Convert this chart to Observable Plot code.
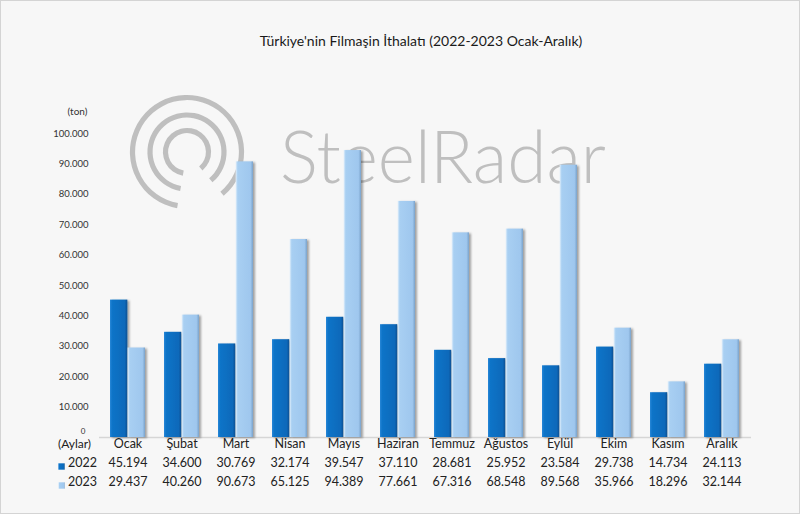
<!DOCTYPE html>
<html><head><meta charset="utf-8">
<script src="https://cdn.jsdelivr.net/npm/d3@7"></script>
<script src="https://cdn.jsdelivr.net/npm/@observablehq/plot@0.6"></script>
<style>
body{margin:0;background:#fff;}
#frame{position:relative;width:798px;height:512px;border:1px solid #d4d4d4;background:#f7f7f7;font-family:Lato,"Open Sans",sans-serif;overflow:hidden}
#title{position:absolute;top:31px;left:0;width:840px;text-align:center;font-size:14px;color:#1a1a1a}
#chart{position:absolute;top:60px;left:0}
</style></head>
<body>
<div id="frame"><div id="title">Türkiye'nin Filmaşin İthalatı (2022-2023 Ocak-Aralık)</div><div id="chart"></div></div>
<script>
const months = ["Ocak","Şubat","Mart","Nisan","Mayıs","Haziran","Temmuz","Ağustos","Eylül","Ekim","Kasım","Aralık"];
const values2022 = [45194,34600,30769,32174,39547,37110,28681,25952,23584,29738,14734,24113];
const values2023 = [29437,40260,90673,65125,94389,77661,67316,68548,89568,35966,18296,32144];
const yTicks = [0,10000,20000,30000,40000,50000,60000,70000,80000,90000,100000];
const seriesNames = ["2022","2023"];
const rowLabel = "(Aylar)";
const unitLabel = "(ton)";

const tr = d3.formatLocale({thousands:".", decimal:",", grouping:[3], currency:["",""]});
const fmt = tr.format(",");

const W = 798, H = 452, ML = 98, MR = 48, MT = 72, MB = 76;
const step = (W - ML - MR) / months.length;
const bw = step * 0.65;
const half = bw / 2;

const rows2022 = months.map((m,i)=>({month:m, value:values2022[i]}));
const rows2023 = months.map((m,i)=>({month:m, value:values2023[i]}));

const plot = Plot.plot({
  width: W, height: H,
  marginLeft: ML, marginRight: MR, marginTop: MT, marginBottom: MB,
  style: {background:"transparent", fontFamily:"Lato, 'Open Sans', sans-serif", color:"#333"},
  x: {domain: months, paddingInner: 0.35, paddingOuter: 0.175, axis: null},
  y: {domain:[0,100000], ticks: yTicks, tickFormat: fmt, tickSize: 0, tickPadding: 11, label: null},
  marks: [
    Plot.ruleY([0], {stroke:"#d6d6d6", strokeWidth:1.5}),
    Plot.barY(rows2022, {x:"month", y:"value", fill:"url(#g22)", insetRight: half}),
    Plot.barY(rows2023, {x:"month", y:"value", fill:"url(#g23)", insetLeft: half}),
    Plot.text(months, {x:d=>d, text:d=>d, frameAnchor:"bottom", dy:10, fontSize:12.5, fill:"#222"}),
    Plot.text(rows2022, {x:"month", text:d=>fmt(d.value), frameAnchor:"bottom", dy:29, fontSize:12.5, fill:"#222"}),
    Plot.text(rows2023, {x:"month", text:d=>fmt(d.value), frameAnchor:"bottom", dy:48, fontSize:12.5, fill:"#222"}),
    Plot.text([rowLabel], {text:d=>d, frameAnchor:"bottom-left", textAnchor:"middle", dx:-25, dy:10.5, fontSize:12, fill:"#222"}),
    Plot.text([seriesNames[0]], {text:d=>d, frameAnchor:"bottom-left", textAnchor:"middle", dx:-17, dy:29, fontSize:12.5, fill:"#222"}),
    Plot.text([seriesNames[1]], {text:d=>d, frameAnchor:"bottom-left", textAnchor:"middle", dx:-17, dy:48, fontSize:12.5, fill:"#222"}),
    Plot.dot([seriesNames[0]], {frameAnchor:"bottom-left", symbol:"square", r:3.6, fill:"url(#g22)", dx:-38, dy:29}),
    Plot.dot([seriesNames[1]], {frameAnchor:"bottom-left", symbol:"square", r:3.6, fill:"url(#g23)", dx:-38, dy:48}),
    Plot.text([unitLabel], {text:d=>d, frameAnchor:"top-left", textAnchor:"middle", dx:-22, dy:-26, fontSize:10, fill:"#333"})
  ]
});

const svg = d3.select(plot);
svg.selectAll('g[aria-label="y-axis tick label"]').attr("font-size", 9.5).attr("fill","#333");
// shrink & lift the "0" tick label so it clears the table header
svg.selectAll('g[aria-label="y-axis tick label"] text').filter(function(){return this.textContent==="0";})
  .attr("font-size",8).attr("dy","-0.7em").attr("dx",-3);
const defs = svg.insert("defs", ":first-child");
const g1 = defs.append("linearGradient").attr("id","g22");
[["0%","#2a88d8"],["12%","#0e74c8"],["85%","#0b69ba"],["100%","#064f90"]].forEach(([o,c])=>g1.append("stop").attr("offset",o).attr("stop-color",c));
const g2 = defs.append("linearGradient").attr("id","g23");
[["0%","#e3f0fb"],["12%","#a8cff2"],["85%","#9fc7ee"],["100%","#7ba3cb"]].forEach(([o,c])=>g2.append("stop").attr("offset",o).attr("stop-color",c));
const f = defs.append("filter").attr("id","sh").attr("x","-20%").attr("y","-5%").attr("width","150%").attr("height","115%");
f.append("feDropShadow").attr("dx",2).attr("dy",1).attr("stdDeviation",1.2).attr("flood-color","#000").attr("flood-opacity",0.35);
svg.selectAll('g[aria-label="bar"]').attr("filter","url(#sh)");

// watermark behind everything
const wm = svg.insert("g", "defs + *").attr("fill","#bfbfbf");
const cx = 186, cy = 91;
[54.5, 37, 21.5].forEach(r=>{
  wm.append("path").attr("transform",`translate(${cx},${cy})`)
    .attr("d", d3.arc()({innerRadius:r-2.6, outerRadius:r+2.6, startAngle:190*Math.PI/180, endAngle:500*Math.PI/180}));
});
wm.append("text").attr("x",279).attr("y",122).attr("font-size",72).attr("font-weight",300)
  .attr("text-anchor","start")
  .attr("textLength",326).attr("lengthAdjust","spacingAndGlyphs").text("SteelRadar");

document.getElementById("chart").appendChild(plot);
</script>
</body></html>
